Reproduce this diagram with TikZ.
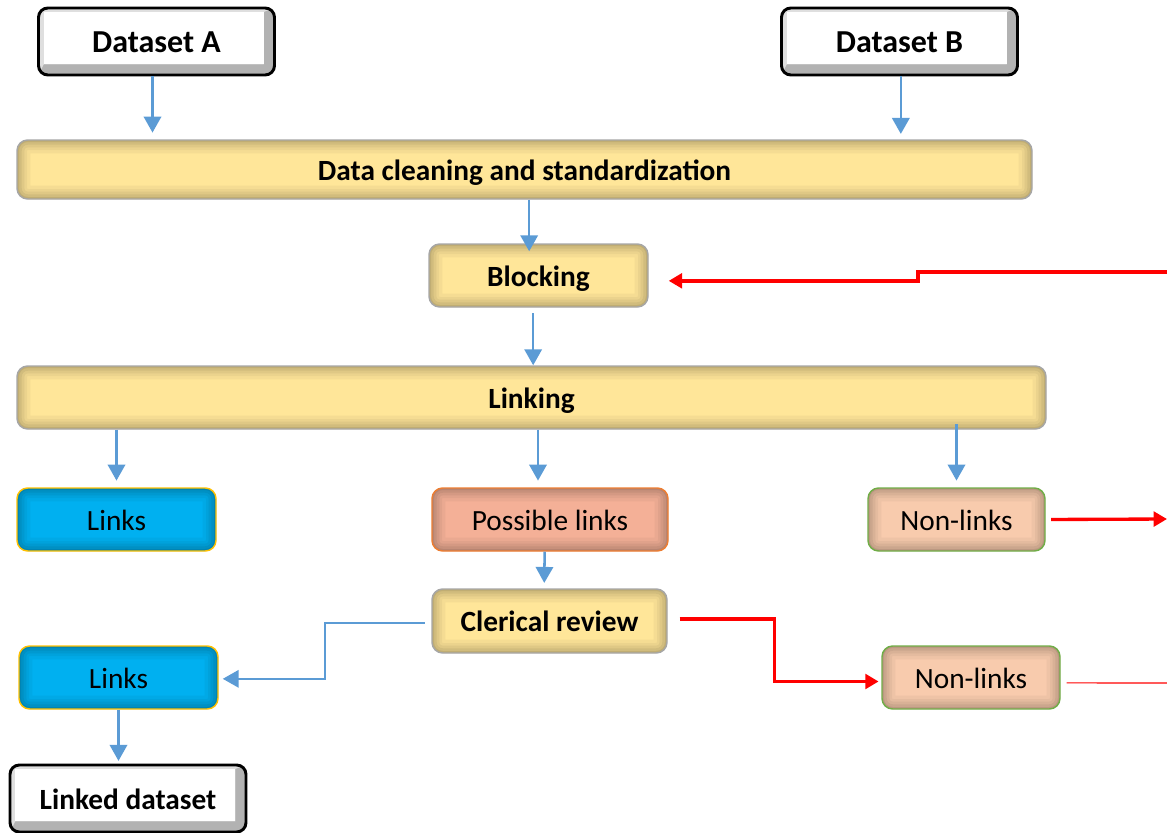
\documentclass[tikz,border=0pt]{standalone}
\usepackage{fontspec}
\setmainfont{Carlito}
\usetikzlibrary{arrows.meta, positioning, calc}

\definecolor{boxyellow}{HTML}{FFE699}
\definecolor{linkblue}{HTML}{00B0F0}
\definecolor{linkgold}{HTML}{FFC000}
\definecolor{possfill}{HTML}{F4B097}
\definecolor{possedge}{HTML}{ED7D31}
\definecolor{nonfill}{HTML}{F8CBAD}
\definecolor{nonedge}{HTML}{70AD47}
\definecolor{arrowblue}{HTML}{5B9BD5}

\begin{document}
\begin{tikzpicture}[x=0.75pt, y=-0.75pt,
    font=\fontsize{22}{26}\selectfont,
    glow/.style={path picture={
        \foreach \lw/\op in {20pt/0.04,15pt/0.04,11pt/0.05,7pt/0.06,3pt/0.08}
          \draw[black, opacity=\op, line width=\lw, rounded corners=8pt]
            (path picture bounding box.south west) rectangle (path picture bounding box.north east);}},
    stepbox/.style={rectangle, rounded corners=8pt, line width=1.1pt, text height=20pt, text depth=4pt, glow},
    yellowbox/.style={stepbox, draw=gray!70, fill=boxyellow, font=\bfseries\fontsize{22}{26}\selectfont},
    linkbox/.style={stepbox, draw=linkgold, fill=linkblue, minimum width=149.25pt, minimum height=47.25pt},
    possbox/.style={stepbox, draw=possedge, fill=possfill},
    nonbox/.style={stepbox, draw=nonedge, fill=nonfill, minimum height=47.25pt},
    bevelbox/.style={rectangle, rounded corners=7pt, draw=black, line width=2.2pt, fill=gray!25,
        minimum width=177pt, minimum height=50.25pt, text height=20pt, text depth=3pt,
        font=\bfseries\fontsize{22}{26}\selectfont,
        path picture={
          \fill[gray!60, sharp corners] (path picture bounding box.south west) -- (path picture bounding box.south east)
            -- (path picture bounding box.north east) -- ([xshift=-8pt,yshift=-3pt]path picture bounding box.north east)
            -- ([xshift=-8pt,yshift=8pt]path picture bounding box.south east) -- ([xshift=4pt,yshift=8pt]path picture bounding box.south west) -- cycle;
          \fill[white, sharp corners] ([xshift=4pt,yshift=8pt]path picture bounding box.south west)
            rectangle ([xshift=-8pt,yshift=-3pt]path picture bounding box.north east);}},
    bluearr/.style={draw=arrowblue, line width=1.9pt, -{Triangle[width=13pt,length=12pt]}},
    redarr/.style={draw=red, line width=2.5pt, -{Triangle[width=11pt,length=10pt]}}]

  \useasboundingbox (0,0) rectangle (1167,832);

  % inputs
  \node[bevelbox, font=\bfseries\fontsize{24}{28}\selectfont] (dsA) at (156.5,41.5) {Dataset A};
  \node[bevelbox, font=\bfseries\fontsize{24}{28}\selectfont] (dsB) at (899.5,41.5) {Dataset B};

  % processing steps
  \node[yellowbox, minimum width=761.25pt, minimum height=44.25pt] (clean) at (524.5,169.5) {Data cleaning and standardization};
  \node[yellowbox, minimum width=164.25pt, minimum height=47.25pt] (block) at (538.5,275.5) {Blocking};
  \node[yellowbox, minimum width=771.75pt, minimum height=47.25pt] (link) at (531.5,397.5) {Linking};

  % outcomes
  \node[linkbox] (links) at (116.5,519.5) {Links};
  \node[possbox, minimum width=177pt, minimum height=47.25pt] (poss) at (550,519.5) {Possible links};
  \node[nonbox, minimum width=132.75pt] (nonl) at (956.5,519.5) {Non-links};

  \node[yellowbox, minimum width=176.25pt, minimum height=48pt] (review) at (549.5,621) {Clerical review};
  \node[linkbox] (linksb) at (118.5,677.5) {Links};
  \node[nonbox, minimum width=133.5pt] (nonlb) at (971,677.5) {Non-links};
  \node[bevelbox] (linked) at (128,798.5) {Linked dataset};

  % free ends on the right
  \coordinate (redin) at (1167,272);
  \coordinate (redstep) at (918,272);
  \coordinate (redout) at (1167,519);
  \coordinate (redend) at (1167,683);
  \coordinate (midL) at ($(review.west)!.5!(linksb.east)$);
  \coordinate (midR) at ($(review.east)!.5!(nonlb.west)$);

  % blue flow
  \draw[bluearr, shorten >=5pt] ([xshift=-3pt]dsA.south) -- ([xshift=-3pt]dsA.south |- clean.north);
  \draw[bluearr, shorten >=4pt] ([xshift=1pt]dsB.south) -- ([xshift=1pt]dsB.south |- clean.north);
  \draw[bluearr] ([xshift=-7pt]block.north |- clean.south) -- ([xshift=-7pt,yshift=-6pt]block.north);
  \draw[bluearr, shorten <=4pt] ([xshift=-4pt]block.south) -- ([xshift=-4pt]block.south |- link.north);
  \draw[bluearr, shorten >=5pt] (links.north |- link.south) -- (links.north);
  \draw[bluearr, shorten >=5pt] ([xshift=-9pt]poss.north |- link.south) -- ([xshift=-9pt]poss.north);
  \draw[bluearr, shorten <=-4pt, shorten >=5pt] (nonl.north |- link.south) -- (nonl.north);
  \draw[bluearr, shorten >=4pt] ([xshift=-4pt]poss.south) -- ([xshift=-4pt]review.north);
  \draw[bluearr, shorten <=5pt, shorten >=3pt] ([yshift=-1.5pt]review.west) -| (midL) |- ([yshift=-1pt]linksb.east);
  \draw[bluearr, shorten >=2pt] (linksb.south) -- (linksb.south |- linked.north);

  % red flow
  \draw[redarr, shorten >=15pt] (redin) -- (redstep) |- ([yshift=-4pt]block.east);
  \draw[redarr, shorten <=4pt] (nonl.east) -- (redout);
  \draw[redarr, shorten <=9pt, shorten >=2pt] ([yshift=1.5pt]review.east) -| (midR) |- ([yshift=-3pt]nonlb.west);
  \draw[red, line width=0.9pt, shorten <=4.5pt] ([yshift=-4pt]nonlb.east) -- (redend);
\end{tikzpicture}
\end{document}
